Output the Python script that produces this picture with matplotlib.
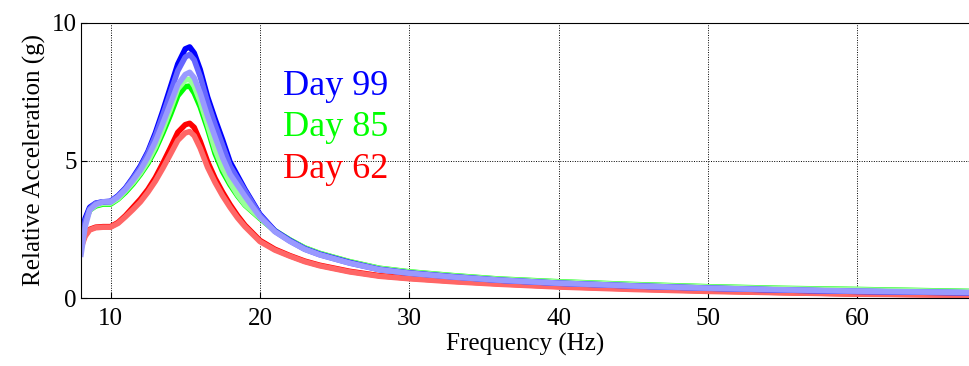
import matplotlib
matplotlib.use("Agg")
import matplotlib.pyplot as plt

# Frequency response of the sensor over three measurement days
freq = [8.0, 8.3, 8.6, 9.0, 9.5, 10.0, 10.5, 11.0, 11.5, 12.0, 12.5, 13.0,
        13.5, 14.0, 14.5, 15.0, 15.3, 15.6, 16.0, 16.5, 17.0, 17.5, 18.0,
        18.5, 19.0, 20.0, 21.0, 22.0, 23.0, 24.0, 26.0, 28.0, 30.0, 33.0,
        36.0, 40.0, 45.0, 50.0, 55.0, 60.0, 67.5]

day99_a = [2.2, 2.9, 3.3, 3.45, 3.5, 3.52, 3.72, 4.0, 4.38, 4.8, 5.32, 6.0,
           6.8, 7.65, 8.5, 9.05, 9.12, 8.9, 8.3, 7.3, 6.5, 5.75, 4.95,
           4.45, 3.95, 3.05, 2.45, 2.1, 1.8, 1.6, 1.3, 1.05, 0.92, 0.78,
           0.66, 0.55, 0.45, 0.37, 0.3, 0.25, 0.2]
day99_b = [1.8, 2.8, 3.25, 3.45, 3.5, 3.5, 3.7, 3.98, 4.35, 4.75, 5.27, 5.9,
           6.65, 7.45, 8.25, 8.75, 8.85, 8.65, 8.05, 7.1, 6.3, 5.55, 4.8,
           4.35, 3.9, 3.02, 2.43, 2.08, 1.78, 1.58, 1.28, 1.04, 0.91, 0.77,
           0.65, 0.54, 0.44, 0.36, 0.3, 0.25, 0.2]
day99_c = [1.5, 2.6, 3.2, 3.4, 3.5, 3.5, 3.68, 3.95, 4.28, 4.65, 5.12, 5.68,
           6.35, 7.05, 7.75, 8.12, 8.2, 8.0, 7.45, 6.6, 5.85, 5.1, 4.5,
           4.1, 3.7, 2.95, 2.42, 2.07, 1.78, 1.58, 1.28, 1.04, 0.91, 0.77,
           0.66, 0.55, 0.45, 0.37, 0.31, 0.26, 0.21]

day85_a = [1.9, 2.8, 3.2, 3.35, 3.42, 3.42, 3.6, 3.85, 4.15, 4.5, 4.9, 5.4,
           6.0, 6.65, 7.35, 7.68, 7.7, 7.45, 6.95, 6.15, 5.25, 4.6, 4.12,
           3.72, 3.38, 2.9, 2.45, 2.12, 1.83, 1.63, 1.33, 1.09, 0.96, 0.82,
           0.7, 0.6, 0.5, 0.42, 0.36, 0.32, 0.25]
day85_b = [1.8, 2.75, 3.2, 3.38, 3.45, 3.45, 3.62, 3.9, 4.2, 4.55, 4.97, 5.5,
           6.15, 6.85, 7.6, 7.92, 7.95, 7.7, 7.15, 6.3, 5.4, 4.72, 4.2,
           3.76, 3.4, 2.92, 2.46, 2.11, 1.82, 1.62, 1.32, 1.08, 0.95, 0.81,
           0.69, 0.59, 0.49, 0.41, 0.35, 0.31, 0.24]

day62_a = [1.9, 2.3, 2.5, 2.58, 2.6, 2.6, 2.75, 3.0, 3.3, 3.6, 3.95, 4.38,
           4.9, 5.45, 6.02, 6.3, 6.35, 6.2, 5.7, 4.95, 4.35, 3.85, 3.4,
           3.0, 2.65, 2.1, 1.78, 1.55, 1.35, 1.2, 0.98, 0.82, 0.73, 0.62,
           0.53, 0.43, 0.34, 0.27, 0.21, 0.16, 0.12]
day62_b = [1.8, 2.25, 2.48, 2.56, 2.58, 2.58, 2.72, 2.96, 3.22, 3.5, 3.85, 4.25,
           4.72, 5.22, 5.73, 6.0, 6.05, 5.9, 5.45, 4.75, 4.2, 3.72, 3.3,
           2.92, 2.6, 2.06, 1.75, 1.53, 1.33, 1.18, 0.96, 0.8, 0.71, 0.6,
           0.51, 0.41, 0.32, 0.25, 0.2, 0.15, 0.11]

plt.rcParams['font.family'] = ['Liberation Serif', 'DejaVu Serif']

fig = plt.figure(figsize=(9.69, 3.66), dpi=100)
ax = fig.add_axes([80.7 / 969, 1 - 298.3 / 366, 1 - 80.7 / 969, (298.3 - 22.7) / 366])

lw = 4.0
ax.plot(freq, day62_a, color=(1, 0, 0), lw=lw, solid_capstyle='butt')
ax.plot(freq, day62_b, color=(1, 0.4, 0.4), lw=lw, solid_capstyle='butt')
ax.plot(freq, day85_a, color=(0, 1, 0), lw=lw, solid_capstyle='butt')
ax.plot(freq, day85_b, color=(0.6, 1, 0.6), lw=lw, solid_capstyle='butt')
ax.plot(freq, day99_a, color=(0, 0, 1), lw=lw, solid_capstyle='butt')
ax.plot(freq, day99_b, color=(0.4, 0.4, 1), lw=lw, solid_capstyle='butt')
ax.plot(freq, day99_c, color=(0.6, 0.6, 1), lw=lw, solid_capstyle='butt')

ax.set_xlim(8, 67.48)
ax.set_ylim(0, 10)
ax.set_xticks([10, 20, 30, 40, 50, 60])
ax.set_yticks([0, 5, 10])
ax.grid(True, color='black', linestyle=(0, (1, 1.5)), linewidth=0.7)
ax.tick_params(direction='in', length=4, width=0.8, labelsize=18)
ax.tick_params(axis='x', pad=7)
ax.tick_params(axis='y', pad=3)
ax.spines['right'].set_visible(False)
for s in ('left', 'bottom', 'top'):
    ax.spines[s].set_linewidth(0.8)

ax.set_xlabel('Frequency (Hz)', fontsize=18, labelpad=2)
ax.set_ylabel('Relative Acceleration (g)', fontsize=18, labelpad=4)

ax.text(21.55, 7.38, 'Day 99', color=(0, 0, 1), fontsize=26, va='baseline')
ax.text(21.55, 5.89, 'Day 85', color=(0, 1, 0), fontsize=26, va='baseline')
ax.text(21.55, 4.36, 'Day 62', color=(1, 0, 0), fontsize=26, va='baseline')

fig.savefig('out.png', dpi=100)
